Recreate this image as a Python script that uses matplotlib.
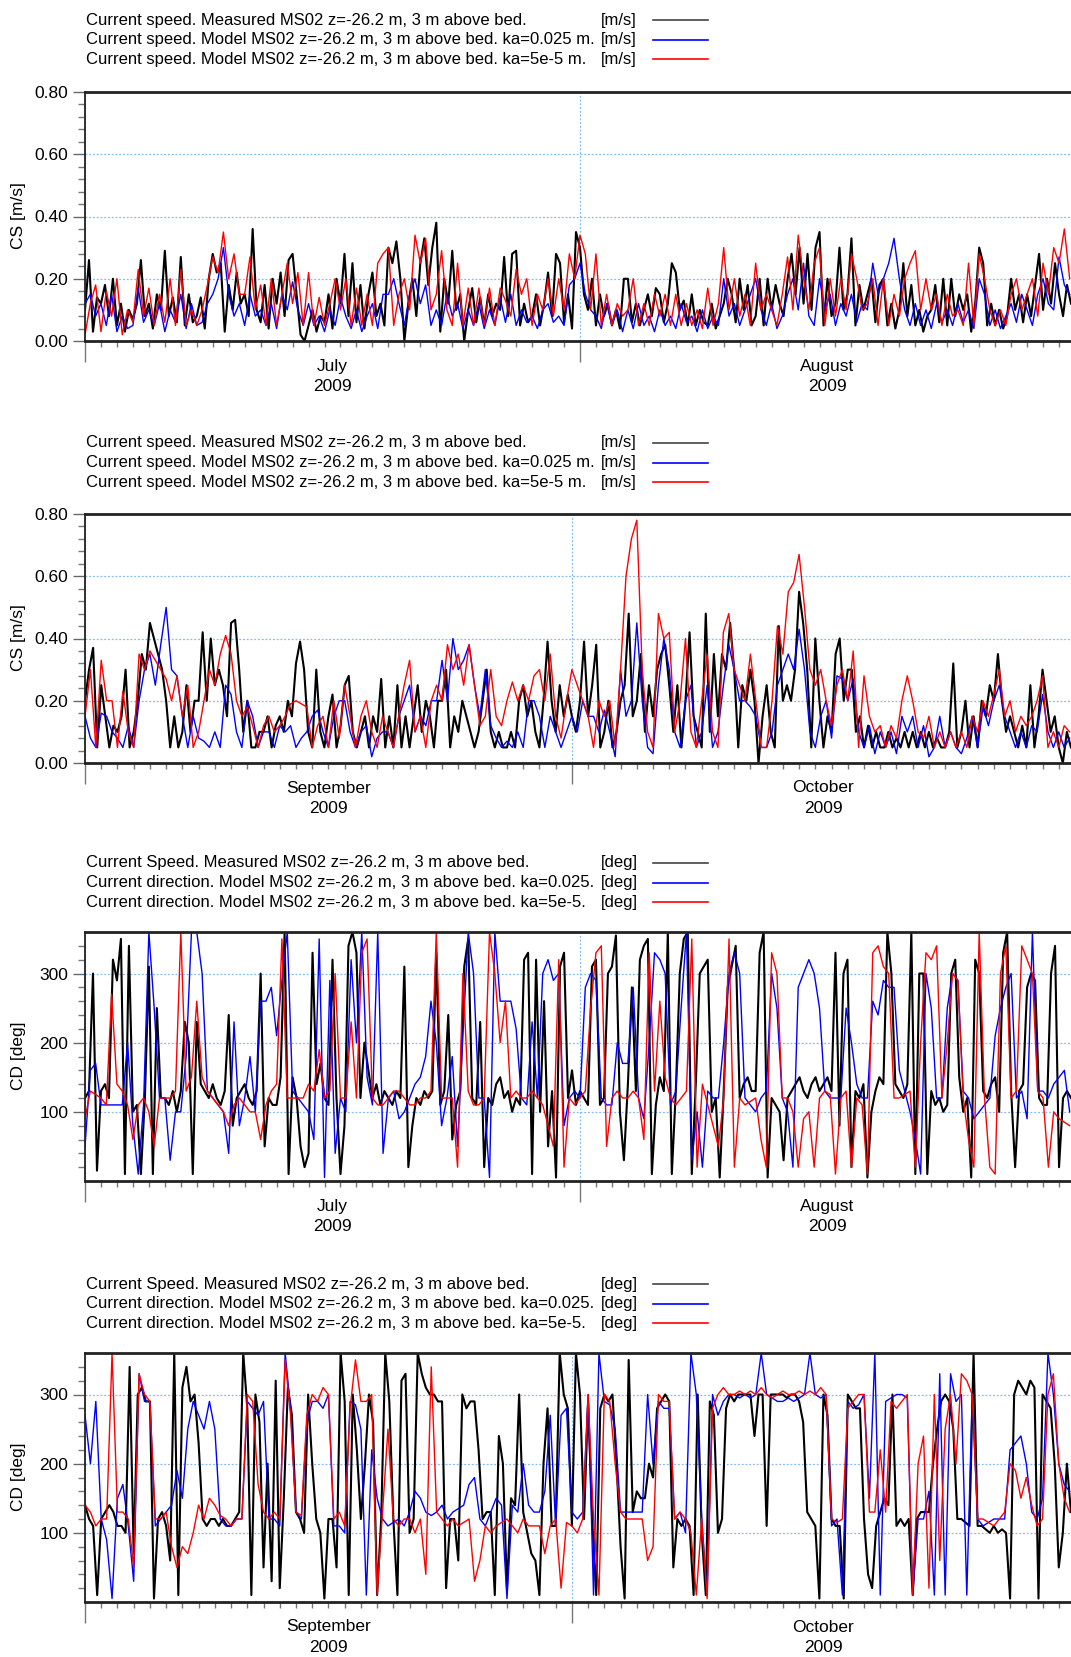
import datetime as dt
import numpy as np
import matplotlib
matplotlib.use('Agg')
import matplotlib.pyplot as plt
import matplotlib.dates as mdates
from matplotlib.lines import Line2D
from matplotlib.ticker import NullFormatter, FormatStrFormatter

plt.rcParams['font.family'] = ['Liberation Sans', 'DejaVu Sans']

W, H = 1071, 1657

# ---- data (speed in cm/s, direction in deg); measured 4 samples/day, models 3 samples/day
cs1_meas = [
    10,26,3,14, 12,18,8,20, 5,12,3,10, 7,12,26,8,
    12,4,15,10, 29,8,14,6, 27,5,15,6, 8,14,4,20,
    28,22,25,3, 18,10,22,12, 15,8,36,10, 6,18,4,20,
    12,22,8,26, 28,15,2,0, 5,10,3,8, 6,15,4,20,
    12,28,8,25, 6,18,4,15, 22,8,12,5, 30,25,32,20,
    0,12,20,8, 25,33,18,30, 38,3,20,12, 29,10,15,0,
    10,17,6,14, 5,15,8,12, 10,27,8,28, 29,5,12,6,
    8,15,5,12, 22,8,28,25, 6,15,4,35, 30,15,10,20,
    5,15,8,12, 5,10,4,20, 20,6,12,5, 10,15,8,17,
    15,6,12,25, 22,10,13,5, 15,5,10,6, 5,12,4,8,
    12,20,15,6, 20,10,18,5, 8,20,5,20, 10,18,12,8,
    20,28,15,30, 12,28,10,30, 35,5,20,8, 12,30,10,15,
    33,5,18,10, 15,20,6,18, 20,5,12,4, 10,25,8,18,
    5,10,3,8, 10,18,6,20, 5,20,8,15, 10,15,3,12,
    30,25,5,12, 5,10,4,8, 20,10,15,6, 15,8,18,28,
    10,20,12,25, 15,8,18,12]
cs1_ka025 = [
    12,15,8, 12,5,15, 3,8,4, 5,17,6, 10,5,12, 3,10,6, 15,4,12, 5,6,12,
    15,20,30, 15,8,12, 5,15,8, 10,5,12, 4,15,10, 19,10,5, 12,5,8, 3,10,5,
    14,8,4, 10,3,8, 12,4,15, 15,20,12, 5,15,20, 12,18,5, 10,5,15, 8,12,4,
    10,5,12, 4,10,5, 14,6,15, 5,10,6, 8,4,10, 12,6,8, 5,18,20, 25,15,10,
    8,4,12, 5,10,3, 10,4,12, 5,8,3, 10,5,8, 4,12,6, 8,3,10, 4,8,5,
    20,8,12, 5,10,15, 20,10,5, 12,4,8, 15,20,10, 25,8,5, 20,10,15, 5,12,8,
    15,6,12, 10,25,15, 20,25,33, 20,10,5, 12,5,10, 4,12,6, 10,5,12, 6,10,4,
    20,15,5, 10,4,8, 12,6,15, 10,5,15, 20,12,10, 27,18,15]
cs1_ka5e5 = [
    2,12,18, 3,16,8, 20,2,10, 6,23,8, 17,5,15, 6,20,5, 23,5,10, 5,10,18,
    27,22,35, 20,28,15, 15,27,10, 18,5,20, 5,15,25, 12,22,5, 22,5,14, 5,12,20,
    10,20,5, 17,5,15, 5,25,28, 30,5,15, 20,10,34, 25,33,10, 15,29,10, 5,25,5,
    17,5,17, 5,17,5, 17,13,8, 23,15,20, 5,15,10, 20,8,20, 10,28,20, 34,28,10,
    28,5,15, 5,12,8, 10,20,5, 12,5,15, 8,15,5, 15,5,12, 5,10,4, 17,5,12,
    30,10,20, 8,15,5, 25,10,15, 10,5,15, 27,10,34, 20,10,25, 30,5,20, 8,20,10,
    28,20,10, 12,20,5, 20,5,15, 8,20,25, 29,10,20, 10,15,5, 15,8,10, 5,25,5,
    28,20,10, 5,10,5, 15,20,10, 15,20,8, 25,15,30, 25,36,20]

cs2_meas = [
    20,30,37,5, 25,15,5,12, 10,15,30,5, 10,20,35,30,
    45,40,35,30, 20,5,15,5, 10,25,10,20, 20,42,20,40,
    25,30,25,15, 45,46,30,10, 20,5,5,10, 10,15,5,12,
    15,10,20,15, 32,39,30,10, 5,30,10,5, 15,22,5,12,
    25,28,10,5, 10,15,5,15, 10,27,5,15, 5,25,5,15,
    5,15,25,10, 20,15,5,20, 20,30,5,15, 10,20,15,10,
    5,10,20,30, 10,5,10,5, 5,10,5,20, 25,15,20,10,
    5,20,39,20, 10,25,15,22, 15,10,20,39, 15,25,38,5,
    10,20,5,10, 20,25,48,15, 20,35,10,25, 15,30,35,38,
    25,10,25,5, 20,42,15,10, 5,48,10,35, 15,35,30,45,
    30,5,25,20, 30,20,0,15, 25,10,5,44, 20,25,20,30,
    55,45,30,5, 40,20,5,15, 10,35,40,20, 30,30,10,15,
    5,12,5,10, 5,5,10,5, 8,5,10,5, 10,5,10,5,
    10,5,8,5, 5,10,32,5, 10,20,5,15, 5,20,15,25,
    20,35,20,10, 15,10,5,12, 5,25,5,15, 30,20,10,15,
    5,0,10,5]
cs2_ka025 = [
    15,8,5, 16,15,10, 8,5,12, 5,20,30, 35,25,38, 50,30,28, 15,5,15, 8,7,5,
    10,5,25, 22,10,5, 20,15,5, 10,10,5, 12,10,12, 5,8,10, 15,17,10, 5,15,20,
    20,10,5, 10,12,2, 8,10,10, 5,15,20, 25,10,15, 12,20,20, 33,20,40, 30,33,38,
    25,15,30, 12,8,5, 7,5,10, 5,20,20, 15,5,15, 10,5,10, 15,10,20, 15,15,10,
    17,10,2, 30,15,20, 45,20,5, 3,25,40, 30,10,5, 20,25,5, 10,25,5, 10,25,38,
    30,20,20, 18,15,5, 5,10,25, 30,35,30, 43,30,10, 5,15,20, 8,28,27, 20,27,10,
    5,12,3, 10,5,10, 3,15,10, 15,5,12, 2,5,15, 5,10,5, 3,8,15, 5,18,12,
    20,25,15, 10,5,10, 5,12,10, 22,10,5, 10,5,8]
cs2_ka5e5 = [
    15,30,5, 33,20,20, 5,23,10, 5,35,30, 36,33,30, 27,20,28, 15,25,5, 10,20,30,
    25,35,41, 35,20,15, 18,12,5, 12,15,10, 12,15,19, 20,19,18, 5,12,15, 5,20,8,
    25,15,5, 15,20,10, 5,15,10, 5,15,25, 33,10,15, 5,20,25, 20,38,30, 35,25,38,
    25,12,15, 30,15,12, 20,26,20, 25,20,28, 30,20,35, 15,8,20, 30,25,20, 15,5,20,
    15,20,5, 30,60,72, 78,30,10, 5,48,40, 42,10,20, 40,10,5, 20,35,10, 5,42,48,
    30,25,20, 35,20,5, 5,20,44, 35,55,58, 67,50,30, 25,30,20, 12,25,30, 20,36,5,
    28,15,10, 12,5,12, 8,20,28, 20,10,8, 15,5,10, 5,10,5, 10,5,15, 10,20,15,
    22,30,15, 20,10,15, 12,15,20, 28,5,10, 5,12,10]

cd1_meas = [
    120,130,300,15, 130,140,120,320, 290,350,10,340, 100,110,10,120,
    310,10,250,120, 120,110,130,100, 130,230,200,10, 230,140,130,120,
    140,120,110,130, 240,80,120,130, 140,120,110,130, 300,50,120,110,
    110,150,360,10, 150,120,50,20, 40,330,140,170, 120,110,320,120,
    10,80,340,360, 330,120,200,160, 120,140,110,130, 120,110,130,120,
    310,20,80,120, 110,130,120,130, 330,110,130,240, 60,110,130,310,
    350,120,110,230, 20,120,110,140, 150,120,130,100, 120,110,320,330,
    10,320,100,260, 50,130,5,310, 330,120,160,110, 130,120,110,310,
    320,110,120,300, 310,355,100,30, 140,280,130,320, 340,350,10,110,
    150,130,360,10, 130,300,350,360, 10,140,300,310, 320,100,120,5,
    130,280,310,340, 120,140,150,130, 130,330,360,5, 120,110,100,30,
    120,130,140,150, 130,120,140,150, 130,140,150,130, 330,80,300,320,
    20,130,120,140, 5,100,130,150, 140,360,300,140, 130,120,140,360,
    10,300,300,10, 130,110,120,100, 110,300,320,150, 100,120,5,320,
    300,130,120,140, 150,100,330,360, 130,20,130,140, 280,300,290,120,
    110,110,300,340, 20,120,130,120]
cd1_ka025 = [
    50,160,170, 110,110,110, 110,110,200, 80,10,110, 360,250,120, 120,30,100,
    100,180,360, 360,300,130, 120,110,100, 40,230,80, 120,180,100, 260,260,280,
    210,290,360, 130,120,110, 100,60,350, 5,290,40, 120,100,320, 200,360,150,
    110,360,40, 120,130,90, 100,120,140, 150,180,260, 200,80,120, 180,50,210,
    360,300,120, 120,5,360, 260,260,260, 220,120,110, 230,120,300, 320,290,300,
    80,120,130, 120,280,300, 290,120,110, 110,200,170, 170,280,120, 90,200,330,
    320,300,110, 130,250,360, 30,100,20, 130,120,120, 200,300,330, 300,120,110,
    100,120,130, 300,250,120, 100,20,280, 300,320,300, 250,130,120, 120,120,250,
    200,140,120, 120,260,240, 290,280,280, 160,130,100, 60,10,300, 250,120,120,
    250,300,290, 130,120,90, 100,110,120, 210,250,280, 300,120,130, 90,360,130,
    130,120,140, 150,160,100]
cd1_ka5e5 = [
    90,130,125, 120,110,270, 140,130,110, 60,110,120, 100,50,120, 120,120,130,
    360,130,150, 260,150,130, 120,110,100, 80,110,120, 110,100,100, 60,110,130,
    140,350,120, 120,120,120, 140,130,190, 120,130,300, 120,120,230, 120,330,350,
    120,110,110, 120,130,130, 120,110,110, 120,120,130, 360,120,120, 120,20,300,
    130,110,110, 120,360,300, 200,260,120, 130,120,120, 130,120,110, 80,50,320,
    20,120,110, 120,130,250, 330,340,50, 120,130,120, 120,130,120, 60,330,130,
    260,150,120, 110,120,130, 350,20,140, 110,80,50, 120,350,20, 120,110,115,
    120,60,20, 330,300,120, 120,100,20, 90,100,20, 120,130,125, 10,120,130,
    20,120,110, 10,330,340, 310,300,120, 120,125,130, 20,200,330, 320,340,120,
    200,300,290, 120,60,20, 360,120,20, 10,300,340, 120,130,340, 320,300,130,
    120,20,100, 90,85,80]

cd2_meas = [
    140,120,110,10, 120,130,140,130, 110,110,100,340, 70,300,310,290,
    290,5,120,130, 110,60,360,10, 310,340,290,300, 230,120,110,120,
    120,110,120,110, 110,120,130,360, 280,10,300,260, 50,200,30,320,
    20,150,310,270, 130,120,100,300, 200,120,100,5, 120,120,50,360,
    290,10,300,220, 120,200,300,260, 10,120,360,290, 120,10,320,330,
    100,120,360,330, 310,300,300,290, 290,20,120,120, 60,300,280,290,
    290,220,120,130, 130,10,240,200, 20,150,140,300, 130,100,70,60,
    10,200,280,110, 110,360,300,280, 110,360,300,120, 290,120,10,280,
    300,290,300,200, 80,5,350,130, 160,150,150,200, 180,280,290,300,
    290,50,120,110, 120,110,10,300, 100,10,290,270, 100,120,280,300,
    290,300,300,300, 300,240,300,300, 110,300,300,300, 300,295,300,300,
    290,260,130,120, 110,5,300,270, 120,110,110,5, 300,290,280,280,
    120,40,20,110, 130,150,140,300, 110,120,110,120, 10,120,130,130,
    130,200,250,290, 300,290,250,120, 120,115,110,360, 110,110,105,100,
    110,100,105,100, 5,300,320,310, 300,320,310,5, 300,290,280,200,
    50,100,200,130]
cd2_ka025 = [
    270,200,290, 120,90,5, 150,170,110, 30,330,290, 290,110,120, 130,140,190,
    150,250,290, 270,250,290, 250,120,110, 110,120,120, 290,280,270, 290,120,120,
    110,360,280, 130,120,260, 290,290,280, 300,110,110, 100,290,285, 250,10,220,
    150,120,110, 115,120,110, 130,160,150, 130,125,130, 140,120,130, 135,140,170,
    180,120,110, 130,150,140, 5,140,130, 200,140,130, 130,160,270, 110,270,280,
    130,120,130, 300,10,360, 290,285,250, 130,130,130, 130,130,300, 200,290,280,
    280,120,130, 100,360,300, 120,10,300, 270,290,300, 300,295,300, 295,300,360,
    300,295,290, 290,295,290, 295,300,360, 300,295,300, 110,120,10, 290,280,285,
    300,150,360, 10,290,295, 300,300,295, 10,120,120, 160,10,330, 10,330,290,
    300,10,300, 120,110,115, 120,120,120, 220,230,240, 200,130,120, 150,360,300,
    200,170,160]
cd2_ka5e5 = [
    140,130,110, 120,120,360, 130,130,120, 50,330,300, 290,120,120, 130,80,50,
    80,70,100, 140,120,150, 140,125,120, 110,120,120, 300,290,170, 130,120,130,
    120,350,270, 130,125,270, 300,290,310, 300,120,130, 110,280,350, 290,290,300,
    10,130,250, 120,110,120, 120,100,120, 40,340,130, 120,110,120, 110,115,120,
    30,60,110, 100,110,115, 120,110,100, 120,110,110, 110,70,110, 120,20,115,
    110,100,120, 300,120,10, 300,290,200, 130,120,120, 120,120,60, 80,300,290,
    290,120,130, 120,100,10, 120,5,280, 300,310,300, 300,305,300, 305,300,310,
    300,295,300, 305,300,300, 305,300,305, 300,310,300, 120,115,120, 280,290,300,
    300,130,130, 220,130,290, 280,290,300, 10,200,240, 20,300,60, 250,300,200,
    330,320,300, 120,120,115, 110,120,130, 200,190,150, 180,140,110, 120,300,330,
    200,150,130]

legend_cs = ['Current speed. Measured MS02 z=-26.2 m, 3 m above bed.',
             'Current speed. Model MS02 z=-26.2 m, 3 m above bed. ka=0.025 m.',
             'Current speed. Model MS02 z=-26.2 m, 3 m above bed. ka=5e-5 m.']
legend_cd = ['Current Speed. Measured MS02 z=-26.2 m, 3 m above bed.',
             'Current direction. Model MS02 z=-26.2 m, 3 m above bed. ka=0.025.',
             'Current direction. Model MS02 z=-26.2 m, 3 m above bed. ka=5e-5.']

start_jul = dt.datetime(2009, 7, 1)
start_sep = dt.datetime(2009, 9, 1)

fig = plt.figure(figsize=(W / 100, H / 100), dpi=100)
fig.patch.set_facecolor('white')

colors = ['#444444', '#0000ff', '#ff0000']
grid_col = '#80bcf5'

def draw_panel(top, leg_gap, start, ndays, meas, blue, red, scale, kind, legend, unit, months):
    # legend block above the frame
    for i, (txt, c) in enumerate(zip(legend, colors)):
        yy = 1 - (top - leg_gap + 19.6 * i) / H
        fig.text(86 / W, yy, txt, fontsize=12, ha='left', va='center')
        fig.text(601 / W, yy, unit, fontsize=12, ha='left', va='center')
        fig.add_artist(Line2D([653 / W, 708 / W], [yy, yy], color=c, lw=1.2,
                              transform=fig.transFigure))

    ax = fig.add_axes([85 / W, 1 - (top + 249) / H, 990 / W, 249 / H])
    t0 = mdates.date2num(start)
    tm = t0 + np.arange(len(meas)) / 4.0
    tc = t0 + np.arange(len(blue)) / 3.0
    ax.plot(tm, np.array(meas) * scale, color='black', lw=1.5)
    ax.plot(tc, np.array(blue) * scale, color='#0000ff', lw=1.0)
    ax.plot(tc, np.array(red) * scale, color='#ff0000', lw=1.0)
    ax.set_xlim(t0, t0 + ndays)

    ax.xaxis.set_major_locator(mdates.MonthLocator())
    ax.xaxis.set_minor_locator(mdates.DayLocator())
    ax.xaxis.set_major_formatter(NullFormatter())
    ax.tick_params(axis='x', which='major', length=15, width=1.0, color='#777777')
    ax.tick_params(axis='x', which='minor', length=4.5, width=1.0, color='#777777')

    if kind == 'cs':
        ax.set_ylim(0, 0.8)
        ax.set_yticks(np.arange(0, 0.81, 0.2))
        ax.set_yticks(np.arange(0, 0.81, 0.04), minor=True)
        ax.yaxis.set_major_formatter(FormatStrFormatter('%.2f'))
        ylab = 'CS [m/s]'
    else:
        ax.set_ylim(0, 360)
        ax.set_yticks([100, 200, 300])
        ax.set_yticks(np.arange(20, 360, 20), minor=True)
        ylab = 'CD [deg]'
    ax.tick_params(axis='y', which='major', length=9, width=1.0, color='#666666',
                   labelsize=12.5, pad=3)
    ax.tick_params(axis='y', which='minor', length=5, width=1.0, color='#777777')

    ax.grid(True, which='major', axis='both', color=grid_col,
            linestyle=(0, (1.5, 1.5)), linewidth=0.9)
    for s in ['top', 'bottom']:
        ax.spines[s].set_linewidth(2.0)
        ax.spines[s].set_color('#222222')
    ax.spines['left'].set_linewidth(1.3)
    ax.spines['left'].set_color('#222222')
    ax.spines['right'].set_visible(False)

    fig.text(19 / W, 1 - (top + 124) / H, ylab, rotation=90, fontsize=12.5,
             ha='center', va='center')

    for name, mid in months:
        xm = t0 + mid
        ax.annotate(name, xy=(xm, 0), xycoords=('data', 'axes fraction'),
                    xytext=(0, -18), textcoords='offset points',
                    ha='center', va='center', fontsize=12.5, annotation_clip=False)
        ax.annotate('2009', xy=(xm, 0), xycoords=('data', 'axes fraction'),
                    xytext=(0, -32.5), textcoords='offset points',
                    ha='center', va='center', fontsize=12.5, annotation_clip=False)
    return ax

draw_panel(92, 72, start_jul, 62, cs1_meas, cs1_ka025, cs1_ka5e5, 0.01, 'cs',
           legend_cs, '[m/s]', [('July', 15.5), ('August', 46.5)])
draw_panel(514, 71, start_sep, 61, cs2_meas, cs2_ka025, cs2_ka5e5, 0.01, 'cs',
           legend_cs, '[m/s]', [('September', 15.0), ('October', 45.5)])
draw_panel(932, 69, start_jul, 62, cd1_meas, cd1_ka025, cd1_ka5e5, 1.0, 'cd',
           legend_cd, '[deg]', [('July', 15.5), ('August', 46.5)])
draw_panel(1353, 69, start_sep, 61, cd2_meas, cd2_ka025, cd2_ka5e5, 1.0, 'cd',
           legend_cd, '[deg]', [('September', 15.0), ('October', 45.5)])

fig.savefig('out.png', dpi=100)
